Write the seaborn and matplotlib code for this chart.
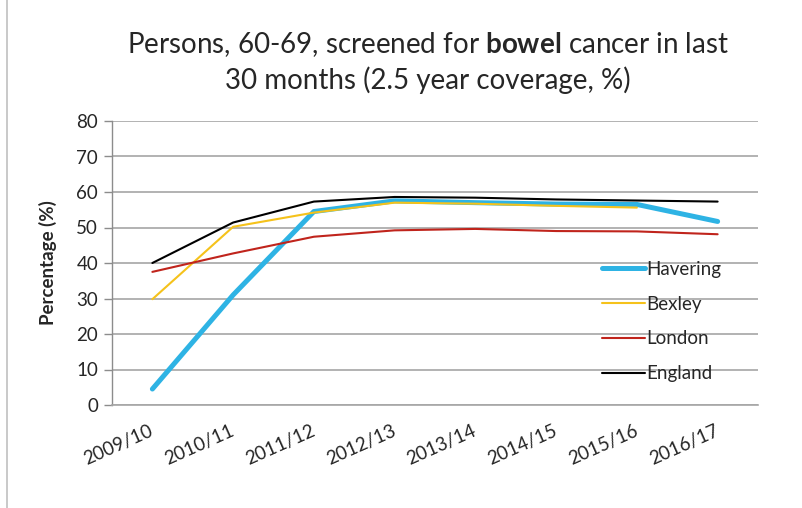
import matplotlib
matplotlib.use("Agg")
import matplotlib.pyplot as plt
from matplotlib.lines import Line2D
import pandas as pd
import seaborn as sns

years = ["2009/10", "2010/11", "2011/12", "2012/13", "2013/14", "2014/15", "2015/16", "2016/17"]
havering = [4.5, 31.0, 54.5, 57.5, 57.0, 56.6, 56.5, 51.7]
bexley = [29.8, 50.2, 54.2, 57.0, 56.7, 56.1, 55.6, None]
london = [37.5, 42.7, 47.4, 49.2, 49.6, 49.0, 48.9, 48.1]
england = [40.0, 51.4, 57.3, 58.6, 58.4, 57.9, 57.6, 57.3]

series = {"Havering": havering, "Bexley": bexley, "London": london, "England": england}
colors = {"Havering": "#2eb3e4", "Bexley": "#f5c21b", "London": "#c0241c", "England": "#000000"}
widths = {"Havering": 3.6, "Bexley": 1.5, "London": 1.5, "England": 1.5}

rows = []
for name, vals in series.items():
    for i, (yr, v) in enumerate(zip(years, vals)):
        if v is not None:
            rows.append({"year": yr, "idx": i, "value": v, "area": name})
df = pd.DataFrame(rows)

sns.set_theme(style="white")
plt.rcParams["font.family"] = ["Lato", "DejaVu Sans"]
plt.rcParams["mathtext.fontset"] = "custom"
plt.rcParams["mathtext.bf"] = "Lato:bold"
plt.rcParams["mathtext.rm"] = "Lato"

fig = plt.figure(figsize=(8.03, 5.08), dpi=100)
ax = fig.add_axes([112 / 803, 1 - 405 / 508, 646 / 803, 284 / 508])

# same draw order as the spreadsheet: first series at the bottom
for name in series:
    sub = df[df["area"] == name]
    sns.lineplot(data=sub, x="idx", y="value", color=colors[name], lw=widths[name],
                 ax=ax, legend=False, solid_capstyle="round")

ax.set_xlim(-0.5, len(years) - 0.5)
ax.set_ylim(0, 80)
ax.set_yticks(range(0, 81, 10))
ax.set_xticks(range(len(years)))
ax.set_xticklabels(years, rotation=24, ha="right", va="center", rotation_mode="anchor",
                   fontsize=13.5)
ax.tick_params(axis="x", length=0, pad=18)
ax.tick_params(axis="y", length=6, width=1, color="#8c8c8c", labelsize=13.5, pad=4, left=True)
ax.grid(axis="y", color="#a6a6a6", lw=1.2)
ax.set_axisbelow(True)
for s in ["top", "right"]:
    ax.spines[s].set_visible(False)
ax.spines["bottom"].set_color("#a6a6a6")
ax.spines["bottom"].set_linewidth(1.2)
ax.spines["left"].set_color("#8c8c8c")
ax.spines["left"].set_linewidth(1)
ax.set_xlabel("")
ax.set_ylabel("Percentage (%)", fontsize=13.5, fontweight="bold", labelpad=14)

handles = [Line2D([0], [0], color=colors[n], lw=widths[n]) for n in series]
leg = ax.legend(handles, list(series.keys()), loc="upper left", bbox_to_anchor=(0.758, 0.508),
                frameon=False, fontsize=13.5, handlelength=2.3, handletextpad=0.1,
                labelspacing=0.95, borderaxespad=0, borderpad=0)

fig.text(0.533, 1 - 45 / 508, r"Persons, 60-69, screened for $\bf{bowel}$ cancer in last",
         ha="center", va="center", fontsize=20)
fig.text(0.533, 1 - 80 / 508, "30 months (2.5 year coverage, %)",
         ha="center", va="center", fontsize=20)

fig.add_artist(Line2D([7 / 803, 7 / 803], [0, 1], color="#c0c0c0", lw=1.2))

fig.savefig("out.png", dpi=100)
